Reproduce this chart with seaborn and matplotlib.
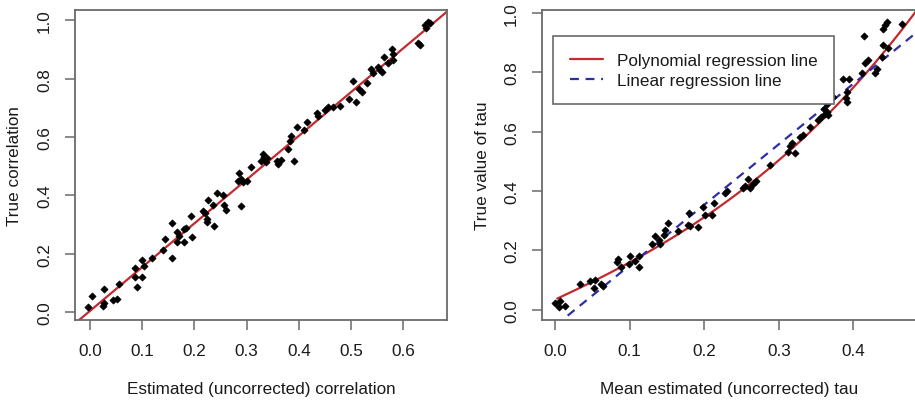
import numpy as np
import pandas as pd
import matplotlib
matplotlib.use("Agg")
import matplotlib.pyplot as plt
from matplotlib.ticker import FixedLocator, FormatStrFormatter
import seaborn as sns

# ---------------- data ----------------
left_x = [-0.004, 0.004, 0.024, 0.026, 0.027, 0.045, 0.052, 0.056, 0.086, 0.086,
          0.090, 0.099, 0.100, 0.104, 0.119, 0.139, 0.144, 0.158, 0.158, 0.166,
          0.166, 0.170, 0.180, 0.180, 0.183, 0.193, 0.196, 0.217, 0.220, 0.224,
          0.225, 0.227, 0.235, 0.238, 0.243, 0.254, 0.256, 0.261, 0.290, 0.285,
          0.284, 0.289, 0.293, 0.300, 0.308, 0.328, 0.331, 0.334, 0.337, 0.340,
          0.358, 0.361, 0.366, 0.390, 0.380, 0.383, 0.386, 0.396, 0.410, 0.416,
          0.435, 0.437, 0.450, 0.455, 0.465, 0.478, 0.497, 0.503, 0.510, 0.516,
          0.521, 0.530, 0.538, 0.543, 0.552, 0.556, 0.559, 0.563, 0.570, 0.578,
          0.580, 0.581, 0.629, 0.632, 0.641, 0.647, 0.652, 0.644]
left_y = [0.017, 0.057, 0.023, 0.032, 0.080, 0.043, 0.046, 0.097, 0.151, 0.120,
          0.088, 0.120, 0.179, 0.160, 0.186, 0.214, 0.251, 0.186, 0.305, 0.274,
          0.242, 0.262, 0.285, 0.242, 0.288, 0.329, 0.257, 0.348, 0.340, 0.320,
          0.310, 0.386, 0.369, 0.297, 0.407, 0.400, 0.369, 0.350, 0.363, 0.477,
          0.450, 0.455, 0.446, 0.448, 0.497, 0.519, 0.542, 0.532, 0.514, 0.528,
          0.519, 0.508, 0.522, 0.519, 0.559, 0.588, 0.605, 0.634, 0.624, 0.651,
          0.684, 0.672, 0.693, 0.702, 0.702, 0.705, 0.731, 0.791, 0.719, 0.766,
          0.755, 0.784, 0.832, 0.821, 0.840, 0.831, 0.823, 0.874, 0.855, 0.901,
          0.886, 0.863, 0.922, 0.916, 0.983, 0.995, 0.990, 0.975]

right_x = [0.000, 0.007, 0.006, 0.013, 0.034, 0.047, 0.054, 0.052, 0.062, 0.065,
           0.083, 0.085, 0.089, 0.100, 0.099, 0.107, 0.113, 0.112, 0.130, 0.134,
           0.139, 0.141, 0.146, 0.147, 0.152, 0.165, 0.180, 0.178, 0.181, 0.192,
           0.199, 0.201, 0.211, 0.213, 0.228, 0.231, 0.252, 0.255, 0.259, 0.261,
           0.269, 0.265, 0.288, 0.313, 0.322, 0.315, 0.318, 0.328, 0.333, 0.342,
           0.353, 0.357, 0.362, 0.364, 0.360, 0.364, 0.366, 0.373, 0.386, 0.394,
           0.390, 0.391, 0.391, 0.412, 0.416, 0.414, 0.420, 0.429, 0.431, 0.438,
           0.440, 0.446, 0.439, 0.442, 0.445, 0.465]
right_y = [0.024, 0.030, 0.008, 0.011, 0.087, 0.098, 0.100, 0.072, 0.087, 0.079,
           0.160, 0.171, 0.144, 0.180, 0.154, 0.163, 0.145, 0.182, 0.221, 0.247,
           0.236, 0.220, 0.252, 0.268, 0.293, 0.266, 0.325, 0.287, 0.282, 0.279,
           0.347, 0.318, 0.318, 0.358, 0.395, 0.400, 0.409, 0.416, 0.440, 0.409,
           0.435, 0.425, 0.488, 0.530, 0.529, 0.553, 0.562, 0.583, 0.589, 0.616,
           0.641, 0.648, 0.660, 0.665, 0.676, 0.692, 0.655, 0.717, 0.778, 0.778,
           0.714, 0.700, 0.735, 0.799, 0.832, 0.924, 0.840, 0.799, 0.810, 0.852,
           0.891, 0.882, 0.947, 0.958, 0.971, 0.963]

# polynomial regression curve (x, fitted y)
poly_read_x = [0.003, 0.1, 0.2, 0.3, 0.4, 0.48]
poly_read_y = [0.036, 0.163, 0.311, 0.497, 0.757, 0.99]
# linear regression line (x, fitted y)
lin_read_x = [0.017, 0.48]
lin_read_y = [-0.020, 0.925]

left_xticks = [0.0, 0.1, 0.2, 0.3, 0.4, 0.5, 0.6]
right_xticks = [0.0, 0.1, 0.2, 0.3, 0.4]
yticks = [0.0, 0.2, 0.4, 0.6, 0.8, 1.0]

legend_labels = ["Polynomial regression line", "Linear regression line"]

# ---------------- styling ----------------
sns.set_theme(style="white")
plt.rcParams['font.family'] = ['Liberation Sans', 'DejaVu Sans']
plt.rcParams['font.size'] = 12.3

RED = "#c22a2f"
BLUE = "#2e2ea6"
BOX = "#6a6a6a"
TXT = "#1a1a1a"

fig = plt.figure(figsize=(9.15, 4.02), dpi=100)
ax1 = fig.add_axes([75 / 915, 1 - 321 / 402, 372 / 915, 310 / 402])
ax2 = fig.add_axes([542 / 915, 1 - 321 / 402, 374 / 915, 310 / 402])


def style_axis(ax, xticks, xlim, ylim, xlabel, ylabel, xl_x, yl_x):
    ax.set_xlim(*xlim)
    ax.set_ylim(*ylim)
    ax.xaxis.set_major_locator(FixedLocator(xticks))
    ax.yaxis.set_major_locator(FixedLocator(yticks))
    ax.xaxis.set_major_formatter(FormatStrFormatter('%.1f'))
    ax.yaxis.set_major_formatter(FormatStrFormatter('%.1f'))
    for s in ax.spines.values():
        s.set_color(BOX)
        s.set_linewidth(1.3)
        s.set_visible(True)
    ax.tick_params(axis='both', direction='out', length=7.5, width=1.1,
                   color=BOX, labelcolor=TXT, labelsize=12.3, pad=9,
                   bottom=True, left=True, top=False, right=False)
    for lab in ax.get_yticklabels():
        lab.set_rotation(90)
        lab.set_va('center')
        lab.set_ha('right')
    ax.set_xlabel(xlabel, fontsize=12.3, color=TXT)
    ax.set_ylabel(ylabel, fontsize=12.3, color=TXT)
    ax.xaxis.set_label_coords(0.5, xl_x)
    ax.xaxis.label.set_va('center')
    ax.yaxis.set_label_coords(yl_x, 0.5)
    ax.yaxis.label.set_va('center')
    ax.grid(False)


# ---------------- left panel ----------------
left_df = pd.DataFrame({"x": left_x, "y": left_y})
style_axis(ax1, left_xticks, (-0.0287, 0.6839), (-0.0264, 1.0353),
           "Estimated (uncorrected) correlation", "True correlation",
           -0.2203, -0.1613)
sns.regplot(data=left_df, x="x", y="y", ax=ax1, scatter=False, ci=None,
            truncate=False, color=RED, line_kws=dict(lw=1.6, zorder=2))
sns.scatterplot(data=left_df, x="x", y="y", ax=ax1, marker='D', s=14,
                color='black', edgecolor='black', linewidth=0.4, zorder=3)
style_axis(ax1, left_xticks, (-0.0287, 0.6839), (-0.0264, 1.0353),
           "Estimated (uncorrected) correlation", "True correlation",
           -0.2203, -0.1613)

# ---------------- right panel ----------------
right_df = pd.DataFrame({"x": right_x, "y": right_y})
poly_c = np.polyfit(poly_read_x, poly_read_y, 3)
lin_c = np.polyfit(lin_read_x, lin_read_y, 1)
poly_grid = np.linspace(poly_read_x[0], poly_read_x[-1] + 0.01, 200)
lin_grid = np.array([lin_read_x[0], lin_read_x[-1] + 0.01])
poly_df = pd.DataFrame({"x": poly_grid, "y": np.polyval(poly_c, poly_grid)})
lin_df = pd.DataFrame({"x": lin_grid, "y": np.polyval(lin_c, lin_grid)})

sns.scatterplot(data=right_df, x="x", y="y", ax=ax2, marker='D', s=14,
                color='black', edgecolor='black', linewidth=0.4, zorder=3)
sns.lineplot(data=poly_df, x="x", y="y", ax=ax2, color=RED, lw=1.6,
             label=legend_labels[0], zorder=2)
sns.lineplot(data=lin_df, x="x", y="y", ax=ax2, color=BLUE, lw=1.6,
             label=legend_labels[1], zorder=2)
ax2.lines[-1].set_dashes((4, 3))
style_axis(ax2, right_xticks, (-0.0174, 0.4839), (-0.0347, 1.0101),
           "Mean estimated (uncorrected) tau", "True value of tau",
           -0.2203, -0.159)

leg = ax2.legend(loc='upper left', bbox_to_anchor=(0.0302, 0.9152),
                 borderaxespad=0, frameon=True, fancybox=False, shadow=False,
                 fontsize=12.3, handlelength=1.95, handletextpad=0.85,
                 borderpad=0.95, labelspacing=0.33)
leg.get_frame().set_edgecolor(BOX)
leg.get_frame().set_linewidth(1.2)
leg.get_frame().set_alpha(1)
for t in leg.get_texts():
    t.set_color(TXT)

fig.savefig("out.png", dpi=100)
